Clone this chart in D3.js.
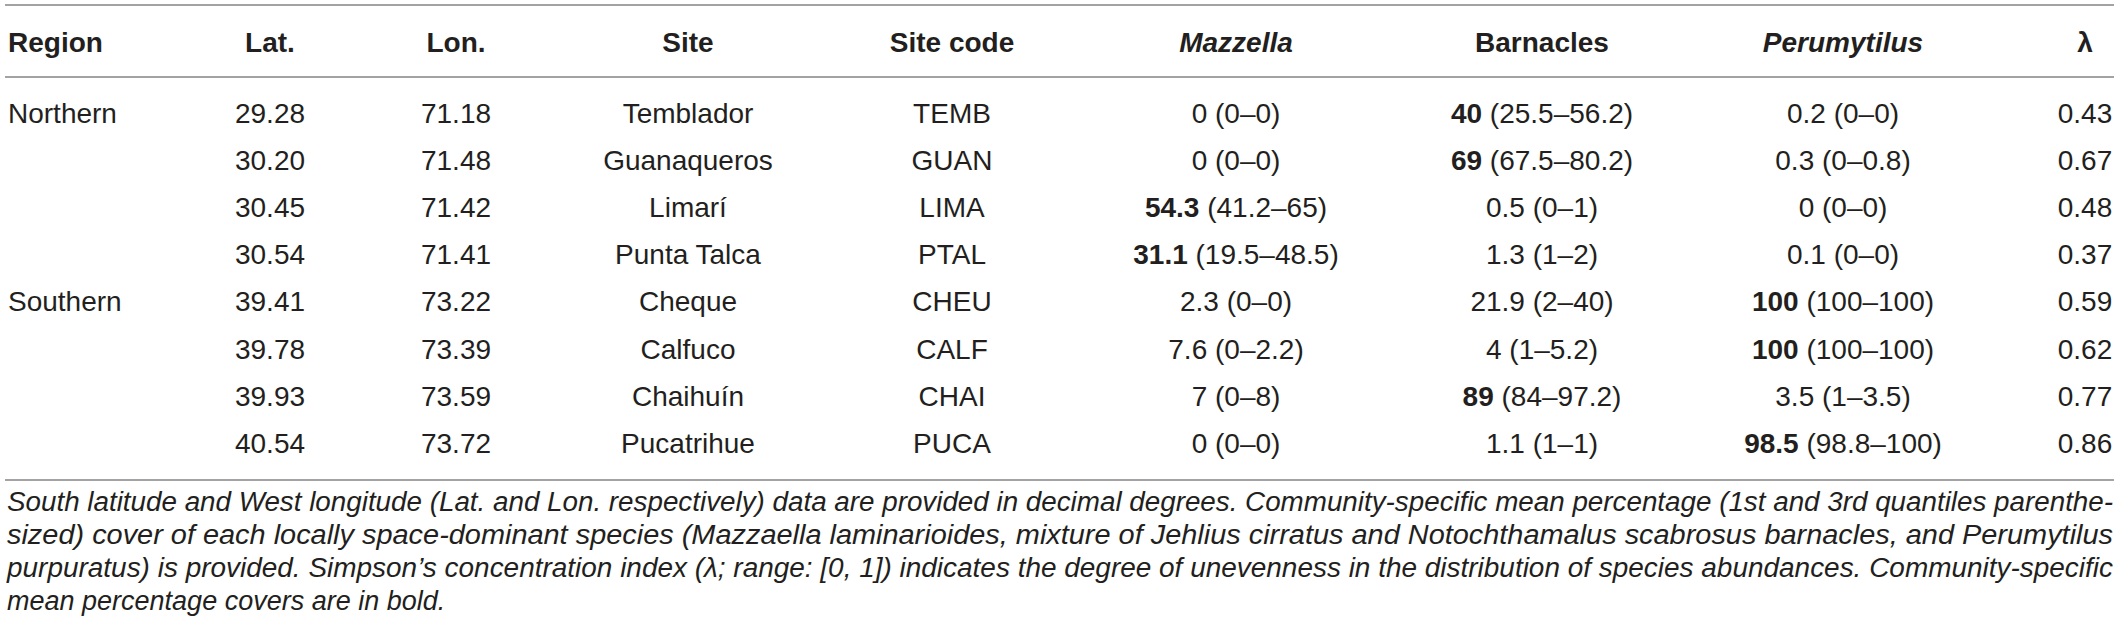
<!DOCTYPE html>
<html>
<head>
<meta charset="utf-8">
<script src="https://cdn.jsdelivr.net/npm/d3@7"></script>
<style>
  body { margin: 0; background: #fff; }
  svg text { font-family: "Liberation Sans", Arial, sans-serif; fill: #231f20; }
</style>
</head>
<body>
<svg id="table" width="2119" height="640"></svg>
<script>
// table content
var regions = ["Northern", "Northern", "Northern", "Northern", "Southern", "Southern", "Southern", "Southern"];
var lats = [29.28, 30.20, 30.45, 30.54, 39.41, 39.78, 39.93, 40.54];
var lons = [71.18, 71.48, 71.42, 71.41, 73.22, 73.39, 73.59, 73.72];
var sites = ["Temblador", "Guanaqueros", "Limarí", "Punta Talca", "Cheque", "Calfuco", "Chaihuín", "Pucatrihue"];
var codes = ["TEMB", "GUAN", "LIMA", "PTAL", "CHEU", "CALF", "CHAI", "PUCA"];
// mean, 1st quantile, 3rd quantile
var mazzella = [[0, 0, 0], [0, 0, 0], [54.3, 41.2, 65], [31.1, 19.5, 48.5], [2.3, 0, 0], [7.6, 0, 2.2], [7, 0, 8], [0, 0, 0]];
var barnacles = [[40, 25.5, 56.2], [69, 67.5, 80.2], [0.5, 0, 1], [1.3, 1, 2], [21.9, 2, 40], [4, 1, 5.2], [89, 84, 97.2], [1.1, 1, 1]];
var perumytilus = [[0.2, 0, 0], [0.3, 0, 0.8], [0, 0, 0], [0.1, 0, 0], [100, 100, 100], [100, 100, 100], [3.5, 1, 3.5], [98.5, 98.8, 100]];
var lambda = [0.43, 0.67, 0.48, 0.37, 0.59, 0.62, 0.77, 0.86];
// dominant species per site (mean shown in bold)
var dominant = ["Barnacles", "Barnacles", "Mazzella", "Mazzella", "Perumytilus", "Perumytilus", "Barnacles", "Perumytilus"];
var headers = ["Region", "Lat.", "Lon.", "Site", "Site code", "Mazzella", "Barnacles", "Perumytilus", "λ"];
var captionLines = [
  "South latitude and West longitude (Lat. and Lon. respectively) data are provided in decimal degrees. Community-specific mean percentage (1st and 3rd quantiles parenthe-",
  "sized) cover of each locally space-dominant species (Mazzaella laminarioides, mixture of Jehlius cirratus and Notochthamalus scabrosus barnacles, and Perumytilus",
  "purpuratus) is provided. Simpson’s concentration index (λ; range: [0, 1]) indicates the degree of unevenness in the distribution of species abundances. Community-specific",
  "mean percentage covers are in bold."
];

var svg = d3.select("#table");
var fmt2 = d3.format(".2f");

// column centres (Region is left aligned)
var colX = d3.scaleOrdinal()
  .domain(headers)
  .range([8, 270, 456, 688, 952, 1236, 1542, 1843, 2085]);
var y = d3.scaleBand().domain(codes).range([89.4, 466.6]).padding(0);
function rowY(c) { return y(c) + y.bandwidth() / 2; }

// rules
[5, 77, 480].forEach(function (ly) {
  svg.append("line")
    .attr("x1", 5).attr("x2", 2114)
    .attr("y1", ly).attr("y2", ly)
    .attr("stroke", "#a3a3a3")
    .attr("stroke-width", 2);
});

// header
svg.selectAll(".head")
  .data(headers)
  .enter()
  .append("text")
  .attr("class", "head")
  .attr("x", function (d) { return colX(d); })
  .attr("y", 42)
  .attr("dy", "0.35em")
  .attr("text-anchor", function (d) { return d == "Region" ? "start" : "middle"; })
  .style("font-size", "28px")
  .style("font-weight", "bold")
  .style("font-style", function (d) { return (d == "Mazzella" || d == "Perumytilus") ? "italic" : "normal"; })
  .text(function (d) { return d; });

// body rows
var rows = codes.map(function (c, i) {
  return {
    code: c,
    region: (i == 0 || regions[i] != regions[i - 1]) ? regions[i] : "",
    lat: lats[i], lon: lons[i], site: sites[i],
    Mazzella: mazzella[i], Barnacles: barnacles[i], Perumytilus: perumytilus[i],
    lambda: lambda[i], dom: dominant[i]
  };
});

var row = svg.selectAll(".row")
  .data(rows)
  .enter()
  .append("g")
  .attr("class", "row")
  .attr("transform", function (d) { return "translate(0," + rowY(d.code) + ")"; });

function cell(sel, col, fn) {
  return sel.append("text")
    .attr("x", colX(col))
    .attr("dy", "0.35em")
    .attr("text-anchor", col == "Region" ? "start" : "middle")
    .style("font-size", "28px")
    .text(fn);
}

cell(row, "Region", function (d) { return d.region; });
cell(row, "Lat.", function (d) { return fmt2(d.lat); });
cell(row, "Lon.", function (d) { return fmt2(d.lon); });
cell(row, "Site", function (d) { return d.site; });
cell(row, "Site code", function (d) { return d.code; });
cell(row, "λ", function (d) { return fmt2(d.lambda); });

["Mazzella", "Barnacles", "Perumytilus"].forEach(function (sp) {
  var t = cell(row, sp, null);
  t.append("tspan")
    .style("font-weight", function (d) { return d.dom == sp ? "bold" : "normal"; })
    .text(function (d) { return d[sp][0]; });
  t.append("tspan")
    .text(function (d) { return " (" + d[sp][1] + "–" + d[sp][2] + ")"; });
});

// caption, first lines justified to the table width
svg.selectAll(".cap")
  .data(captionLines)
  .enter()
  .append("text")
  .attr("class", "cap")
  .attr("x", 7)
  .attr("y", function (d, i) { return 502 + i * 33; })
  .attr("dy", "0.35em")
  .style("font-size", "27px")
  .style("font-style", "italic")
  .each(function (d, i) {
    if (i < captionLines.length - 1) {
      d3.select(this).attr("textLength", 2106).attr("lengthAdjust", "spacingAndGlyphs");
    }
  })
  .text(function (d) { return d; });
</script>
</body>
</html>
